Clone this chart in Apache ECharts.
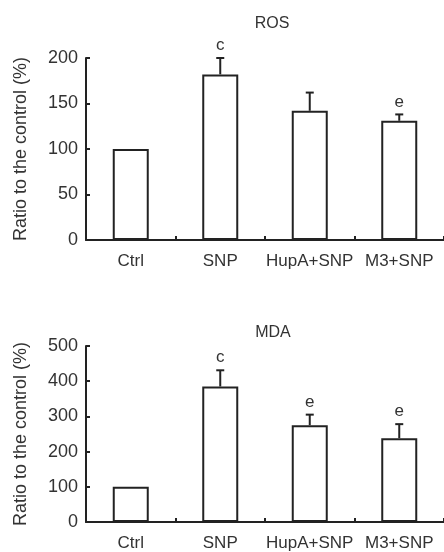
<!DOCTYPE html>
<html>
<head>
<meta charset="utf-8">
<script src="https://cdn.jsdelivr.net/npm/echarts@6/dist/echarts.min.js"></script>
<style>
  html, body { margin: 0; padding: 0; background: #fff; }
  #chart { width: 444px; height: 552px; }
</style>
</head>
<body>
<div id="chart"></div>
<script>
// 数据
const categories = ['Ctrl', 'SNP', 'HupA+SNP', 'M3+SNP']

const rosValues = [100, 182, 142, 131]
const rosErrors = [0, 18, 20, 7]
const rosMarks = ['', 'c', '', 'e']

const mdaValues = [100, 385, 275, 238]
const mdaErrors = [0, 46, 30, 40]
const mdaMarks = ['', 'c', 'e', 'e']

const rosTicks = [0, 200, 50]   // min, max, interval
const mdaTicks = [0, 500, 100]

const lineColor = '#222'
const textColor = '#333'
const font = 'Liberation Sans, Arial, sans-serif'

// 误差线 + 显著性字母
const errorItem = (params, api) => {
  const idx = api.value(0)
  const val = api.value(1)
  const err = api.value(2)
  const mark = params.dataIndex
  const base = api.coord([idx, val])
  const top = api.coord([idx, val + err])
  const children = []
  if (err > 0) {
    children.push({
      type: 'line',
      shape: { x1: base[0], y1: base[1], x2: top[0], y2: top[1] },
      style: { stroke: lineColor, lineWidth: 2 }
    })
    children.push({
      type: 'line',
      shape: { x1: top[0] - 4, y1: top[1], x2: top[0] + 4, y2: top[1] },
      style: { stroke: lineColor, lineWidth: 2 }
    })
  }
  const letters = params.seriesName === 'rosErr' ? rosMarks : mdaMarks
  if (letters[mark]) {
    children.push({
      type: 'text',
      style: {
        text: letters[mark],
        x: top[0],
        y: top[1] - 4,
        align: 'center',
        verticalAlign: 'bottom',
        fill: textColor,
        font: '17px ' + font
      }
    })
  }
  return { type: 'group', children }
}

const makeYAxis = (gridIndex, ticks) => ({
  type: 'value',
  gridIndex,
  min: ticks[0],
  max: ticks[1],
  interval: ticks[2],
  name: 'Ratio to the control (%)',
  nameLocation: 'middle',
  nameGap: 56,
  nameTextStyle: { color: textColor, fontSize: 18, fontFamily: font },
  axisLine: { show: true, lineStyle: { color: lineColor, width: 2 } },
  axisTick: { show: true, inside: true, length: 4, lineStyle: { color: lineColor, width: 2 } },
  axisLabel: { color: textColor, fontSize: 18, fontFamily: font, margin: 8 },
  splitLine: { show: false }
})

const makeXAxis = (gridIndex) => ({
  type: 'category',
  gridIndex,
  data: categories,
  axisLine: { lineStyle: { color: lineColor, width: 2 } },
  axisTick: { show: true, inside: true, interval: 0, length: 4, lineStyle: { color: lineColor, width: 2 } },
  axisLabel: { color: textColor, fontSize: 17, fontFamily: font, margin: 13, interval: 0 }
})

const barStyle = {
  color: '#fff',
  borderColor: lineColor,
  borderWidth: 2
}

const chart = echarts.init(document.getElementById('chart'), null, { renderer: 'canvas' })

const option = {
  animation: false,
  backgroundColor: '#fff',
  title: [
    { text: 'ROS', left: 267, top: 11, textAlign: 'center',
      textStyle: { color: textColor, fontSize: 16, fontWeight: 'normal', fontFamily: font } },
    { text: 'MDA', left: 268, top: 320, textAlign: 'center',
      textStyle: { color: textColor, fontSize: 16, fontWeight: 'normal', fontFamily: font } }
  ],
  grid: [
    { left: 86, top: 58, width: 359, height: 182 },
    { left: 86, top: 346, width: 359, height: 181 }
  ],
  xAxis: [makeXAxis(0), makeXAxis(1)],
  yAxis: [makeYAxis(0, rosTicks), makeYAxis(1, mdaTicks)],
  series: [
    {
      name: 'ros', type: 'bar', xAxisIndex: 0, yAxisIndex: 0,
      barWidth: 36, itemStyle: barStyle, data: rosValues
    },
    {
      name: 'rosErr', type: 'custom', xAxisIndex: 0, yAxisIndex: 0,
      renderItem: errorItem, z: 5,
      data: rosValues.map((v, i) => [i, v, rosErrors[i]])
    },
    {
      name: 'mda', type: 'bar', xAxisIndex: 1, yAxisIndex: 1,
      barWidth: 36, itemStyle: barStyle, data: mdaValues
    },
    {
      name: 'mdaErr', type: 'custom', xAxisIndex: 1, yAxisIndex: 1,
      renderItem: errorItem, z: 5,
      data: mdaValues.map((v, i) => [i, v, mdaErrors[i]])
    }
  ]
}

chart.setOption(option)
</script>
</body>
</html>
